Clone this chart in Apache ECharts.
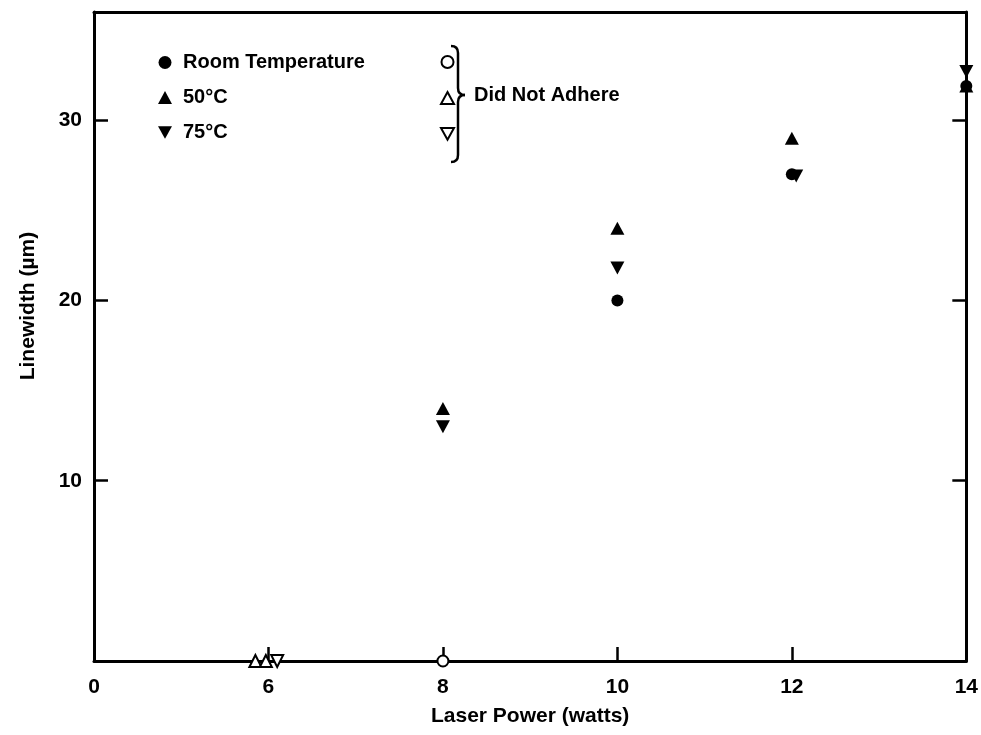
<!DOCTYPE html>
<html>
<head>
<meta charset="utf-8">
<script src="https://cdn.jsdelivr.net/npm/echarts@6/dist/echarts.min.js"></script>
<style>
html,body{margin:0;padding:0;background:#fff;}
#chart{width:981px;height:735px;}
</style>
</head>
<body>
<div id="chart"></div>
<script>
// ---- data ----
var xTicks = [4, 6, 8, 10, 12, 14];
var xTickLabels = ['0', '6', '8', '10', '12', '14'];
var yTickLabels = [10, 20, 30];

var seriesNames = ['Room Temperature', '50°C', '75°C'];
var roomTemp = [[10, 20], [12, 27], [14, 31.9]];
var temp50 = [[8, 14], [10, 24], [12, 29], [14, 31.9]];
var temp75 = [[8, 13], [10, 21.8], [12.05, 26.9], [14, 32.7]];

var notAdhereNames = ['Room Temperature (did not adhere)', '50°C (did not adhere)', '75°C (did not adhere)'];
var roomTempNA = [[8, 0]];
var temp50NA = [[5.85, 0], [5.97, 0]];
var temp75NA = [[6.1, 0]];

var legendNote = 'Did Not Adhere';
var xTitle = 'Laser Power (watts)';
var yTitle = 'Linewidth (µm)';

// ---- chart ----
var FONT = "'Liberation Sans', Arial, sans-serif";
var downTri = 'path://M0,0 L10,0 L5,9 Z';
var chart = echarts.init(document.getElementById('chart'), null, {renderer: 'canvas'});

var filledStyle = {color: '#000', borderColor: '#000', borderWidth: 0, opacity: 1};
var openStyle = {color: '#fff', borderColor: '#000', borderWidth: 2, opacity: 1};

var option = {
  backgroundColor: '#fff',
  animation: false,
  grid: {left: 94, right: 12, top: 12, bottom: 74, containLabel: false},
  xAxis: [{
    type: 'value', min: 4, max: 14, interval: 2,
    axisLine: {show: true, onZero: false, lineStyle: {color: '#000', width: 3}},
    axisTick: {show: true, inside: true, length: 14, lineStyle: {color: '#000', width: 2.5}},
    axisLabel: {
      color: '#000', fontSize: 21, fontWeight: 'bold', fontFamily: FONT, margin: 16,
      formatter: function (v) { var i = xTicks.indexOf(v); return i >= 0 ? xTickLabels[i] : ''; }
    },
    splitLine: {show: false},
    name: xTitle, nameLocation: 'middle', nameGap: 45,
    nameTextStyle: {color: '#000', fontSize: 21, fontWeight: 'bold', fontFamily: FONT}
  }, {
    type: 'value', position: 'top', min: 4, max: 14, interval: 2,
    axisLine: {show: true, onZero: false, lineStyle: {color: '#000', width: 3}},
    axisTick: {show: false}, axisLabel: {show: false}, splitLine: {show: false}
  }],
  yAxis: [{
    type: 'value', min: 0, max: 36, interval: 10,
    axisLine: {show: true, onZero: false, lineStyle: {color: '#000', width: 3}},
    axisTick: {show: true, inside: true, length: 14, lineStyle: {color: '#000', width: 2.5}},
    axisLabel: {
      color: '#000', fontSize: 21, fontWeight: 'bold', fontFamily: FONT, margin: 12,
      formatter: function (v) { return yTickLabels.indexOf(v) >= 0 ? String(v) : ''; }
    },
    splitLine: {show: false}
  }, {
    type: 'value', position: 'right', min: 0, max: 36, interval: 10,
    axisLine: {show: true, onZero: false, lineStyle: {color: '#000', width: 3}},
    axisTick: {show: true, inside: true, length: 14, lineStyle: {color: '#000', width: 2.5}},
    axisLabel: {show: false}, splitLine: {show: false}
  }],
  legend: [{
    data: seriesNames, orient: 'vertical', left: 153, top: 47,
    itemWidth: 14, itemHeight: 13, itemGap: 14,
    selectedMode: false,
    textStyle: {color: '#000', fontSize: 20, fontWeight: 'bold', fontFamily: FONT, lineHeight: 21, padding: [0, 0, 0, 6]}
  }, {
    data: notAdhereNames, orient: 'vertical', left: 435, top: 50,
    itemWidth: 13, itemHeight: 12, itemGap: 22,
    selectedMode: false,
    formatter: function () { return ''; },
    textStyle: {fontSize: 1}
  }],
  graphic: [
    {type: 'bezierCurve', shape: {x1: 451, y1: 46, x2: 458, y2: 53, cpx1: 458, cpy1: 46}, style: {stroke: '#000', lineWidth: 2.5, fill: null}},
    {type: 'line', shape: {x1: 458, y1: 53, x2: 458, y2: 88}, style: {stroke: '#000', lineWidth: 2.5}},
    {type: 'bezierCurve', shape: {x1: 458, y1: 88, x2: 465, y2: 95, cpx1: 458, cpy1: 95}, style: {stroke: '#000', lineWidth: 2.5, fill: null}},
    {type: 'bezierCurve', shape: {x1: 465, y1: 95, x2: 458, y2: 102, cpx1: 458, cpy1: 95}, style: {stroke: '#000', lineWidth: 2.5, fill: null}},
    {type: 'line', shape: {x1: 458, y1: 102, x2: 458, y2: 155}, style: {stroke: '#000', lineWidth: 2.5}},
    {type: 'bezierCurve', shape: {x1: 458, y1: 155, x2: 451, y2: 162, cpx1: 458, cpy1: 162}, style: {stroke: '#000', lineWidth: 2.5, fill: null}},
    {type: 'text', x: 474, y: 95, style: {text: legendNote, fill: '#000', font: 'bold 20px ' + FONT, textAlign: 'left', textVerticalAlign: 'middle'}},
    {type: 'text', x: 28, y: 306, rotation: Math.PI / 2, style: {text: yTitle, fill: '#000', font: 'bold 21px ' + FONT, textAlign: 'center', textVerticalAlign: 'middle'}}
  ],
  series: [
    {name: seriesNames[0], type: 'scatter', data: roomTemp, symbol: 'circle', symbolSize: 12, itemStyle: filledStyle, clip: false, z: 5},
    {name: seriesNames[1], type: 'scatter', data: temp50, symbol: 'triangle', symbolSize: [14, 13], itemStyle: filledStyle, clip: false, z: 5},
    {name: seriesNames[2], type: 'scatter', data: temp75, symbol: downTri, symbolSize: [14, 13], itemStyle: filledStyle, clip: false, z: 5},
    {name: notAdhereNames[0], type: 'scatter', data: roomTempNA, symbol: 'circle', symbolSize: 11, itemStyle: openStyle, clip: false, z: 5},
    {name: notAdhereNames[1], type: 'scatter', data: temp50NA, symbol: 'triangle', symbolSize: [12, 12], itemStyle: openStyle, clip: false, z: 5},
    {name: notAdhereNames[2], type: 'scatter', data: temp75NA, symbol: downTri, symbolSize: [12, 12], itemStyle: openStyle, clip: false, z: 5}
  ]
};
chart.setOption(option);
</script>
</body>
</html>
